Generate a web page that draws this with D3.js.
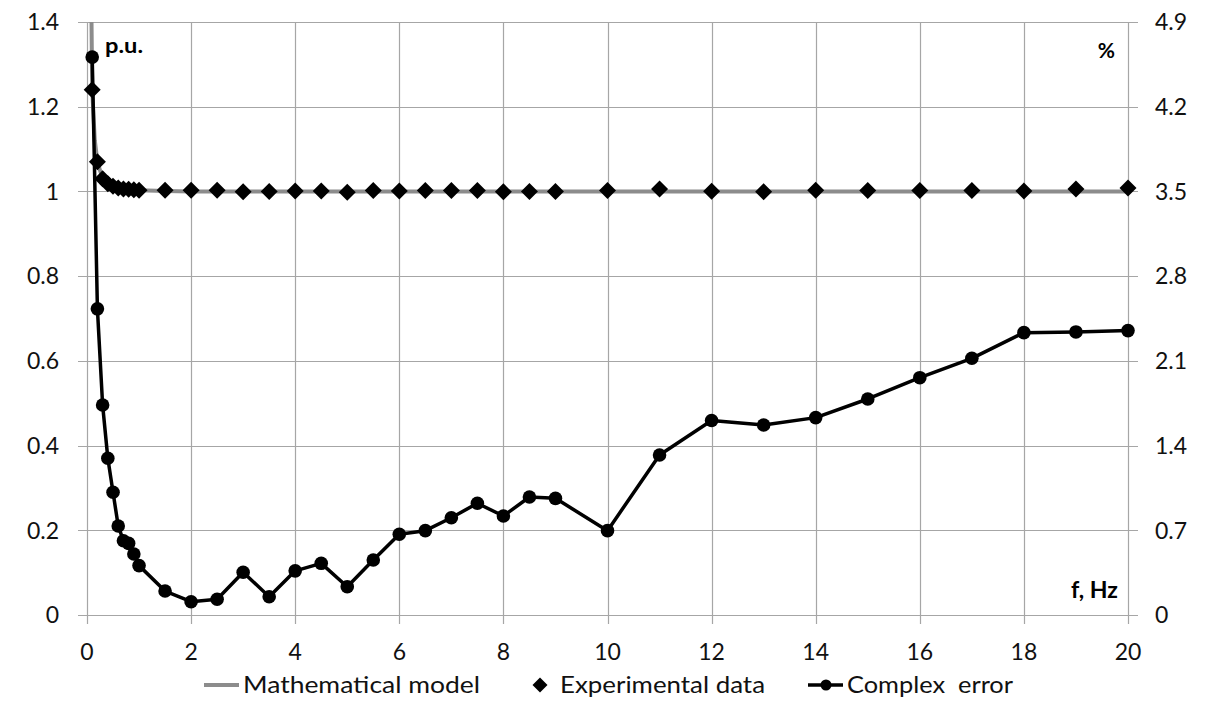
<!DOCTYPE html>
<html>
<head>
<meta charset="utf-8">
<script src="https://cdn.jsdelivr.net/npm/d3@7"></script>
<style>
  html, body { margin: 0; padding: 0; background: #fff; }
  svg { display: block; font-family: Lato, "Open Sans", sans-serif; }
</style>
</head>
<body>
<svg id="chart" width="1205" height="702"></svg>
<script>
// ---- data ----
const freq = [0.1,0.2,0.3,0.4,0.5,0.6,0.7,0.8,0.9,1,1.5,2,2.5,3,3.5,4,4.5,5,5.5,6,6.5,7,7.5,8,8.5,9,10,11,12,13,14,15,16,17,18,19,20];
const experimental = [1.24,1.07,1.03,1.018,1.012,1.008,1.006,1.005,1.004,1.003,1.003,1.003,1.003,0.999,1.0,1.001,1.001,0.998,1.002,1.001,1.002,1.002,1.002,0.999,1.0,1.0,1.002,1.006,1.0005,0.9995,1.003,1.002,1.002,1.002,1.001,1.006,1.008];
const complexError = [4.61,2.53,1.735,1.295,1.014,0.735,0.614,0.592,0.504,0.408,0.198,0.110,0.130,0.353,0.151,0.365,0.427,0.234,0.455,0.667,0.697,0.804,0.923,0.818,0.975,0.964,0.697,1.322,1.607,1.570,1.631,1.785,1.961,2.121,2.333,2.339,2.350];
const modelFreq = [0.07,0.1,0.15,0.2,0.3,0.4,0.5,0.7,1,1.5,2,20];
const modelValue = [1.6,1.24,1.12,1.07,1.03,1.017,1.011,1.006,1.003,1.001,1.0,1.0];
const xTicks = [0,2,4,6,8,10,12,14,16,18,20];
const yLeftTicks = [0,0.2,0.4,0.6,0.8,1,1.2,1.4];
const yRightTicks = [0,0.7,1.4,2.1,2.8,3.5,4.2,4.9];
const legendLabels = ["Mathematical model","Experimental data","Complex  error"];

// ---- layout ----
const svg = d3.select("#chart");
const L = 87, R = 1128, T = 22, B = 615;
const x = d3.scaleLinear().domain([0,20]).range([L,R]);
const yL = d3.scaleLinear().domain([0,1.4]).range([B,T]);
const yR = d3.scaleLinear().domain([0,4.9]).range([B,T]);
const gridColor = "#a6a6a6";
const tickFont = 23;

// gridlines
svg.append("g").selectAll("line.h").data(yLeftTicks).join("line")
  .attr("x1", L-9).attr("x2", R+10)
  .attr("y1", d => Math.round(yL(d))+0.5).attr("y2", d => Math.round(yL(d))+0.5)
  .attr("stroke", gridColor).attr("stroke-width", 1.2);
svg.append("g").selectAll("line.v").data(xTicks).join("line")
  .attr("x1", d => Math.round(x(d))+0.5).attr("x2", d => Math.round(x(d))+0.5)
  .attr("y1", T).attr("y2", B+9)
  .attr("stroke", gridColor).attr("stroke-width", 1.2);

// tick labels
svg.append("g").selectAll("text").data(yLeftTicks).join("text")
  .attr("x", 59).attr("y", d => yL(d)).attr("dy", "0.36em")
  .attr("text-anchor", "end").attr("font-size", tickFont).attr("fill", "#111")
  .text(d => d3.format("")(d));
svg.append("g").selectAll("text").data(yRightTicks).join("text")
  .attr("x", 1155).attr("y", d => yR(d)).attr("dy", "0.36em")
  .attr("text-anchor", "start").attr("font-size", tickFont).attr("fill", "#111")
  .text(d => d3.format("")(d));
svg.append("g").selectAll("text").data(xTicks).join("text")
  .attr("x", d => x(d)).attr("y", 660)
  .attr("text-anchor", "middle").attr("font-size", tickFont).attr("fill", "#111")
  .text(d => d);

// clip
svg.append("clipPath").attr("id", "plotclip").append("rect")
  .attr("x", L-10).attr("y", T).attr("width", R-L+20).attr("height", B-T+10);

// model line
const modelPts = modelFreq.map((f,i) => [f, modelValue[i]]);
svg.append("path").datum(modelPts)
  .attr("clip-path", "url(#plotclip)")
  .attr("d", d3.line().x(d => x(d[0])).y(d => yL(d[1])))
  .attr("fill", "none").attr("stroke", "#8c8c8c").attr("stroke-width", 4);

// diamonds
const diamond = s => `M0,${-s}L${s},0L0,${s}L${-s},0Z`;
svg.append("g").selectAll("path").data(freq).join("path")
  .attr("transform", (f,i) => `translate(${x(f)},${yL(experimental[i])})`)
  .attr("d", diamond(8.5)).attr("fill", "#000");

// complex error line + circles
const errPts = freq.map((f,i) => [f, complexError[i]]);
svg.append("path").datum(errPts)
  .attr("d", d3.line().x(d => x(d[0])).y(d => yR(d[1])))
  .attr("fill", "none").attr("stroke", "#000").attr("stroke-width", 3.5)
  .attr("stroke-linejoin", "round");
svg.append("g").selectAll("circle").data(errPts).join("circle")
  .attr("cx", d => x(d[0])).attr("cy", d => yR(d[1])).attr("r", 6.8).attr("fill", "#000");

// axis unit labels
svg.append("text").attr("x", 105).attr("y", 53).attr("font-size", 21).attr("font-weight", "bold")
  .attr("textLength", 38).attr("lengthAdjust", "spacingAndGlyphs").text("p.u.");
svg.append("text").attr("x", 1115).attr("y", 58).attr("text-anchor", "end").attr("font-size", 21).attr("font-weight", "bold").text("%");
svg.append("text").attr("x", 1071).attr("y", 598).attr("font-size", 22).attr("font-weight", "bold")
  .attr("textLength", 47).attr("lengthAdjust", "spacingAndGlyphs").text("f, Hz");

// legend
const lg = svg.append("g");
const ly = 685;
const legFont = 24;
lg.append("line").attr("x1", 204).attr("x2", 239).attr("y1", ly).attr("y2", ly).attr("stroke", "#8c8c8c").attr("stroke-width", 4);
lg.append("text").attr("x", 243).attr("y", 693).attr("font-size", legFont).attr("fill", "#111")
  .attr("textLength", 237).attr("lengthAdjust", "spacingAndGlyphs").text(legendLabels[0]);
lg.append("path").attr("transform", `translate(540,${ly})`).attr("d", diamond(7.5)).attr("fill", "#000");
lg.append("text").attr("x", 560).attr("y", 693).attr("font-size", legFont).attr("fill", "#111")
  .attr("textLength", 205).attr("lengthAdjust", "spacingAndGlyphs").text(legendLabels[1]);
lg.append("line").attr("x1", 808).attr("x2", 843).attr("y1", ly).attr("y2", ly).attr("stroke", "#000").attr("stroke-width", 3.5);
lg.append("circle").attr("cx", 826).attr("cy", ly).attr("r", 5.5).attr("fill", "#000");
lg.append("text").attr("x", 847).attr("y", 693).attr("font-size", legFont).attr("fill", "#111")
  .attr("xml:space", "preserve").style("white-space", "pre")
  .attr("textLength", 166).attr("lengthAdjust", "spacingAndGlyphs").text(legendLabels[2]);
</script>
</body>
</html>
